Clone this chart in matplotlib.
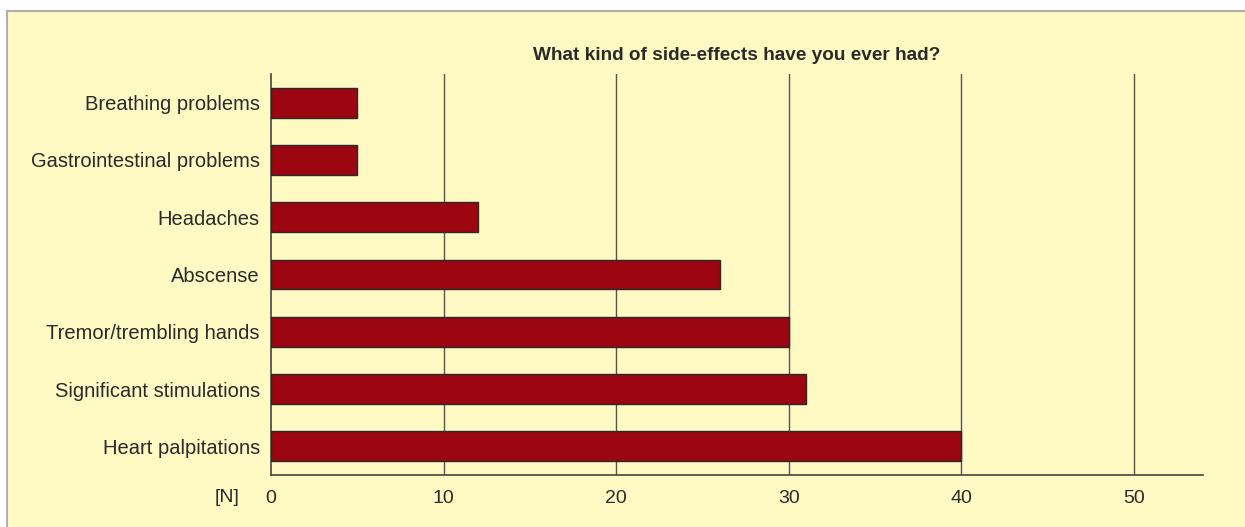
import matplotlib
matplotlib.use("Agg")
import matplotlib.pyplot as plt
from matplotlib.patches import Rectangle

categories = ["Heart palpitations", "Significant stimulations", "Tremor/trembling hands",
              "Abscense", "Headaches", "Gastrointestinal problems", "Breathing problems"]
values = [40, 31, 30, 26, 12, 5, 5]
xticks = [0, 10, 20, 30, 40, 50]
title = "What kind of side-effects have you ever had?"
unit_label = "[N]"

bg = "#FFF9C4"
bar_color = "#9B0610"
text_color = "#2a2a2a"

plt.rcParams['font.family'] = ['Liberation Sans', 'DejaVu Sans']

fig = plt.figure(figsize=(12.45, 5.27), dpi=100)
fig.patch.set_facecolor("white")
W, H = 1245, 527
fig.patches.append(Rectangle((7 / W, -0.05), 1.1, 1.05 - 11 / H, transform=fig.transFigure,
                             facecolor=bg, edgecolor="#b0b0b0", linewidth=1.5, zorder=-10))

ax = fig.add_axes([271 / W, 1 - 475 / H, (1203 - 271) / W, (475 - 74) / H])
ax.set_facecolor(bg)
ax.patch.set_alpha(0)

y = list(range(len(categories)))
ax.barh(y, values, height=0.52, color=bar_color, edgecolor="#2a2a2a", linewidth=1.0, zorder=3)

ax.set_xlim(0, 54)
ax.set_ylim(-0.5, len(categories) - 0.5)
ax.set_yticks(y)
ax.set_yticklabels(categories, fontsize=14.5, color=text_color)
ax.set_xticks(xticks)
ax.set_xticklabels([str(t) for t in xticks], fontsize=14, color=text_color)
ax.tick_params(axis="both", length=0)
ax.tick_params(axis="x", pad=11)
ax.tick_params(axis="y", pad=8)

for t in xticks[1:]:
    ax.axvline(t, color="#555555", linewidth=1.0, zorder=1)

for s in ["top", "right"]:
    ax.spines[s].set_visible(False)
for s in ["left", "bottom"]:
    ax.spines[s].set_color("#444444")
    ax.spines[s].set_linewidth(1.2)

ax.set_title(title, fontsize=13.7, fontweight="bold", color=text_color, pad=10)

ax.annotate(unit_label, xy=(0, 0), xycoords="axes fraction", xytext=(-31, -22),
            textcoords="offset pixels", ha="right", va="center", fontsize=14, color=text_color)

fig.savefig("out.png", dpi=100, facecolor=fig.get_facecolor())
